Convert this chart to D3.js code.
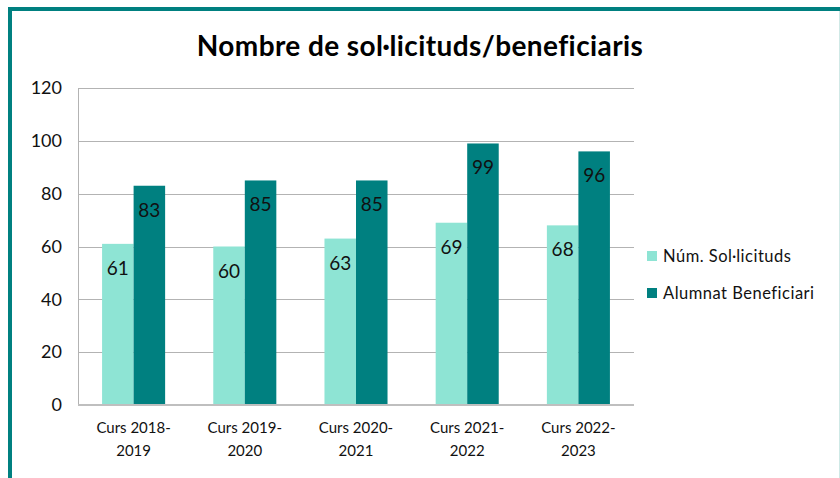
<!DOCTYPE html>
<html>
<head>
<meta charset="utf-8">
<script src="https://cdn.jsdelivr.net/npm/d3@7"></script>
<style>
  body { margin: 0; background: #fff; }
  svg { display: block; font-family: Lato, "Open Sans", sans-serif; }
</style>
</head>
<body>
<svg id="chart"></svg>
<script>
const categories = [
  ['Curs 2018-', '2019'],
  ['Curs 2019-', '2020'],
  ['Curs 2020-', '2021'],
  ['Curs 2021-', '2022'],
  ['Curs 2022-', '2023']
];
const seriesNames = ['Núm. Sol·licituds', 'Alumnat Beneficiari'];
const solicituds = [61, 60, 63, 69, 68];
const beneficiaris = [83, 85, 85, 99, 96];
const yTicks = [0, 20, 40, 60, 80, 100, 120];

const colors = ['#8EE4D4', '#008080'];

const width = 840, height = 478;
const svg = d3.select('#chart').attr('width', width).attr('height', height);

// frame
svg.append('rect')
  .attr('x', 10).attr('y', 9)
  .attr('width', 840).attr('height', 480)
  .attr('fill', 'none')
  .attr('stroke', '#008080')
  .attr('stroke-width', 4);
svg.append('line')
  .attr('x1', 839.5).attr('x2', 839.5).attr('y1', 11).attr('y2', height)
  .attr('stroke', '#cfe9e6').attr('stroke-width', 1);

svg.append('text')
  .attr('x', 420).attr('y', 56)
  .attr('text-anchor', 'middle')
  .attr('font-size', 28)
  .attr('font-weight', 'bold')
  .attr('letter-spacing', 0.4)
  .attr('fill', '#000')
  .text('Nombre de sol·licituds/beneficiaris');

const plot = { left: 78, right: 634, top: 88, bottom: 405 };

const x = d3.scaleBand()
  .domain(d3.range(categories.length))
  .range([plot.left, plot.right])
  .paddingInner(0.433)
  .paddingOuter(0.2165);

const xs = d3.scaleBand()
  .domain([0, 1])
  .range([0, x.bandwidth()]);

const y = d3.scaleLinear().domain([0, 120]).range([plot.bottom, plot.top]);

// gridlines
svg.append('g')
  .selectAll('line')
  .data(yTicks.filter(t => t > 0))
  .join('line')
  .attr('x1', plot.left).attr('x2', plot.right)
  .attr('y1', d => Math.round(y(d)) + 0.5).attr('y2', d => Math.round(y(d)) + 0.5)
  .attr('stroke', '#b3b3b3').attr('stroke-width', 1);

svg.append('line')
  .attr('x1', plot.left + 0.5).attr('x2', plot.left + 0.5)
  .attr('y1', plot.top).attr('y2', plot.bottom)
  .attr('stroke', '#b3b3b3');

// y labels
svg.append('g')
  .selectAll('text')
  .data(yTicks)
  .join('text')
  .attr('x', 62).attr('y', d => y(d))
  .attr('dy', '0.35em')
  .attr('text-anchor', 'end')
  .attr('font-size', 18)
  .attr('fill', '#111')
  .text(d => d);

const series = [solicituds, beneficiaris];
series.forEach((vals, si) => {
  const g = svg.append('g');
  g.selectAll('rect')
    .data(vals)
    .join('rect')
    .attr('x', (d, i) => x(i) + xs(si))
    .attr('y', d => y(d))
    .attr('width', xs.bandwidth())
    .attr('height', d => plot.bottom - y(d))
    .attr('fill', colors[si]);
  g.selectAll('text')
    .data(vals)
    .join('text')
    .attr('x', (d, i) => x(i) + xs(si) + xs.bandwidth() / 2)
    .attr('y', d => y(d) + 31)
    .attr('text-anchor', 'middle')
    .attr('font-size', 19)
    .attr('fill', '#111')
    .text(d => d);
});

// axis line
svg.append('line')
  .attr('x1', plot.left).attr('x2', plot.right)
  .attr('y1', plot.bottom).attr('y2', plot.bottom)
  .attr('stroke', '#bfbfbf').attr('stroke-width', 2);

// x labels
const xl = svg.append('g')
  .selectAll('text')
  .data(categories)
  .join('text')
  .attr('x', (d, i) => x(i) + x.bandwidth() / 2)
  .attr('y', 433)
  .attr('text-anchor', 'middle')
  .attr('font-size', 15)
  .attr('fill', '#111');
xl.append('tspan').text(d => d[0]);
xl.append('tspan')
  .attr('x', (d, i) => x(i) + x.bandwidth() / 2)
  .attr('dy', 23)
  .text(d => d[1]);

// legend
const legend = svg.append('g')
  .selectAll('g')
  .data(seriesNames)
  .join('g')
  .attr('transform', (d, i) => `translate(647, ${251 + i * 37})`);
legend.append('rect')
  .attr('width', 10).attr('height', 10)
  .attr('fill', (d, i) => colors[i]);
legend.append('text')
  .attr('x', 16).attr('y', 5)
  .attr('dy', '0.35em')
  .attr('font-size', 16.5)
  .attr('letter-spacing', 0.5)
  .attr('fill', '#111')
  .text(d => d);
</script>
</body>
</html>
